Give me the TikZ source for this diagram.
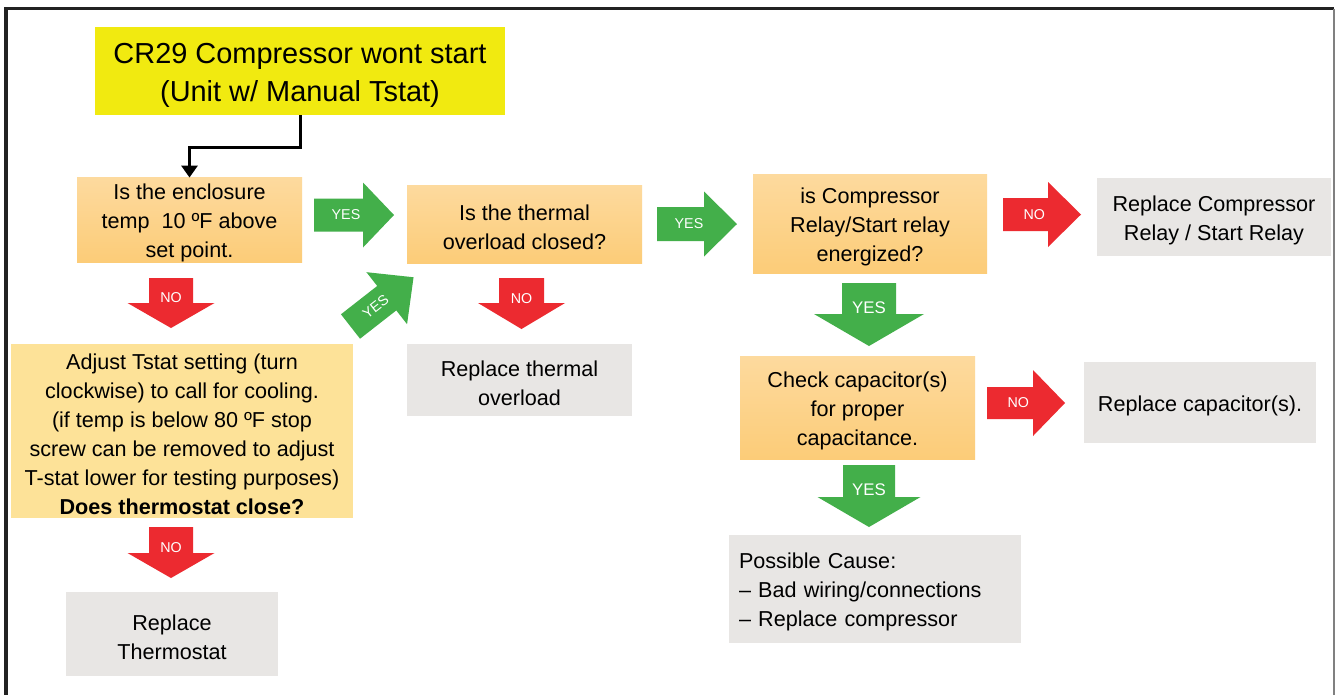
\documentclass[tikz,border=0pt]{standalone}
\usepackage{fontspec}
\setmainfont{Liberation Sans}
\usetikzlibrary{arrows.meta}
\definecolor{tyellow}{HTML}{F1EA10}
\definecolor{qtop}{HTML}{FDDA9E}
\definecolor{qbot}{HTML}{FCCC78}
\definecolor{abox}{HTML}{FDE298}
\definecolor{greybox}{HTML}{E8E6E4}
\definecolor{agreen}{HTML}{43AF4A}
\definecolor{ared}{HTML}{EC2A30}
\definecolor{framedark}{HTML}{222222}
\newcommand\pxl{0.75pt}
\newcommand\lrot{0}
\newcommand\topst{\rule{0pt}{16.4pt}}
\newcommand\titlest{\rule{0pt}{22pt}}
% #1 colour, #2 tail x,y, #3 angle, #4 length, #5 head length, #6 body width, #7 head width, #8 name, #9 label
\newcommand\blockarr[9]{%
  \begin{scope}[shift={(#2)}, rotate=#3]
    \fill[#1] (0,{-#6/2}) -- ({#4-#5},{-#6/2}) -- ({#4-#5},{-#7/2}) -- (#4,0)
      -- ({#4-#5},{#7/2}) -- ({#4-#5},{#6/2}) -- (0,{#6/2}) -- cycle;
    \node[arrlbl, rotate=\lrot] (#8) at ({0.4*#4},0) {#9};
  \end{scope}}
\tikzset{
  box/.style={inner sep=0pt, align=center, text=black,
    font=\fontsize{16.2}{21.75}\selectfont},
  sz/.style 2 args={minimum width={#1*\pxl}, minimum height={#2*\pxl}},
  qbox/.style={box, top color=qtop, bottom color=qbot},
  gbox/.style={box, fill=greybox},
  arrlbl/.style={inner sep=0pt, text=white, font=\fontsize{10.7}{12}\selectfont},
}
\newcommand\biglbl{\fontsize{12.6}{14}\selectfont}
\begin{document}
\begin{tikzpicture}[x=0.75pt,y=-0.75pt]
\useasboundingbox (0,0) rectangle (1335,694);
\clip (0,0) rectangle (1335,694);
\fill[white] (0,0) rectangle (1335,694);
% frame
\draw[line width=2.4pt, framedark] (6,700) -- (6,8.5) -- (1334,8.5);
\draw[line width=1.5pt, gray] (1334,8.5) -- (1334,700);

% boxes
\node[box, fill=tyellow, sz={410}{88}, font=\fontsize{21.7}{28.5}\selectfont]
  (title) at (300,71) {\titlest CR29 Compressor wont start\\(Unit w/ Manual Tstat)};
\node[qbox, sz={225}{84}] (b1) at (189.5,220) {\topst Is the enclosure\\temp\ \ 10 ºF above\\set point.};
\node[qbox, sz={235}{78}] (b2) at (524.5,224) {\topst Is the thermal\\overload closed?};
\node[qbox, sz={234}{99}] (b3) at (870,223.5) {\topst is Compressor\\Relay/Start relay\\energized?};
\node[gbox, sz={234}{78}] (r1) at (1214,217) {\topst Replace Compressor\\Relay / Start Relay};
\node[qbox, sz={235}{103}] (b4) at (857.5,407.5) {\topst Check capacitor(s)\\for proper\\capacitance.};
\node[gbox, sz={232}{81}] (r2) at (1200,402.5) {\topst Replace capacitor(s).};
\node[gbox, sz={292}{108}, align=left, text width={272*\pxl}, inner xsep={10*\pxl}]
  (r3) at (875,589) {\topst Possible Cause:\\– Bad wiring/connections\\– Replace compressor};
\node[box, fill=abox, sz={342}{174}] (b5) at (182,431)
  {\topst Adjust Tstat setting (turn\\clockwise) to call for cooling.\\(if temp is below 80 ºF stop\\screw can be removed to adjust\\T-stat lower for testing purposes)\\\textbf{Does thermostat close?}};
\node[gbox, sz={225}{72}] (r4) at (519.5,380) {\topst Replace thermal\\overload};
\node[gbox, sz={212}{84}] (r5) at (172,634) {\topst Replace\\Thermostat};

% connector
\draw[line width=2.25pt, -{Triangle[width=12pt,length=9pt]}]
  (title.south) -- ++(0,32) -| (b1.north);

% block arrows
\blockarr{agreen}{314,215}{0}{80}{31}{33}{65}{y1}{YES}
\blockarr{agreen}{657,224}{0}{80}{33}{34}{65}{y2}{YES}
\blockarr{ared}{1003,214.5}{0}{78}{33}{33}{65}{n1}{NO}
\blockarr{ared}{987,403}{0}{78}{32}{32}{66}{n2}{NO}
\blockarr{agreen}{869,283}{-90}{63}{32}{54}{110}{y3}{\biglbl YES}
\blockarr{agreen}{869,465}{-90}{62}{30}{52}{103}{y4}{\biglbl YES}
\blockarr{ared}{171,278}{-90}{50}{25}{44}{87}{n3}{NO}
\blockarr{ared}{171,527}{-90}{51}{25}{44}{87}{n4}{NO}
\blockarr{ared}{521.5,278}{-90}{51}{26}{45}{87}{n5}{NO}
\renewcommand\lrot{38}
\blockarr{agreen}{350.5,326.5}{38}{80}{34}{31}{66}{y5}{YES}
\end{tikzpicture}
\end{document}
